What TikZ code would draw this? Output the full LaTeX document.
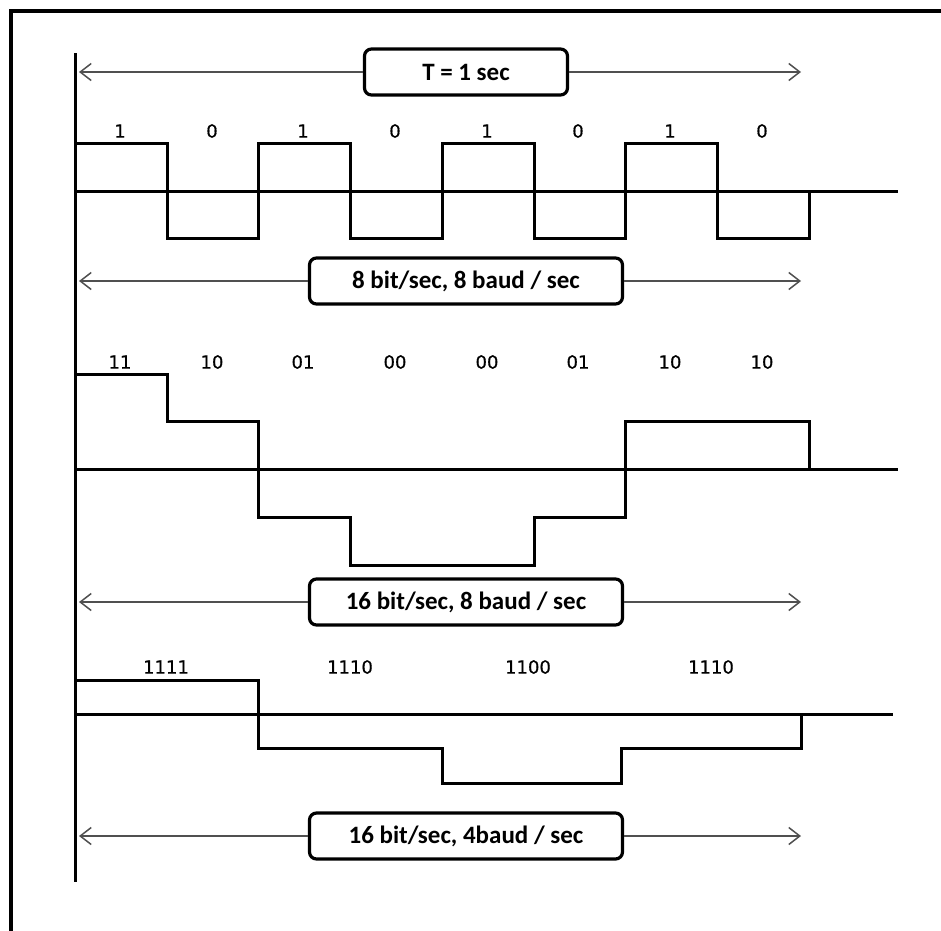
\documentclass[tikz,border=0pt]{standalone}
\usepackage{fontspec}
\setmainfont{Carlito}
\newfontfamily\bitfont[FakeBold=0.6]{DejaVu Sans}
\usetikzlibrary{arrows.meta,positioning}
\definecolor{spangray}{HTML}{505050}

\begin{document}
\begin{tikzpicture}[
    x=1pt, y=-1pt,
    rate/.style={rectangle, rounded corners=7pt, draw=black, line width=3.2pt, fill=white, minimum width=313pt, minimum height=46pt, inner sep=0pt, font=\fontsize{25}{28}\selectfont\bfseries},
    bits/.style={inner sep=0pt, font=\bitfont\fontsize{18}{20}\selectfont},
    span/.style={-{Straight Barb[length=11pt, width=17pt, line width=1.5pt]}, draw=spangray, line width=1.5pt},
    wave/.style={line width=3pt},
    axis/.style={line width=3pt}
]
\useasboundingbox (0,0) rectangle (941,930);

% Frame and time axis
\draw[line width=4.5pt] (11,935) -- (11,11) -- (946,11);
\draw[axis] (75,53) -- (75,882);

% Period
\node[rate, minimum width=203pt] (period) at (466,72) {T = 1 sec};
\coordinate (pl) at (79,72);
\coordinate (pr) at (801,72);
\draw[span] (period.west) -- (pl);
\draw[span] (period.east) -- (pr);

% Two levels
\draw[wave] (75,191) -- (898,191);
\draw[wave] (75,143) -| (167,238) -| (258,143) -| (350,238) -| (442,143) -| (534,238) -| (625,143) -| (717,238) -| (809,191);
\node[bits] (b1) at (120,131) {1};
\node[bits] (b2) at (212,131) {0};
\node[bits] (b3) at (303,131) {1};
\node[bits] (b4) at (395,131) {0};
\node[bits] (b5) at (487,131) {1};
\node[bits] (b6) at (578,131) {0};
\node[bits] (b7) at (670,131) {1};
\node[bits] (b8) at (762,131) {0};

\node[rate] (rate1) at (466,281) {8 bit/sec, 8 baud / sec};
\coordinate (r1l) at (79,281);
\coordinate (r1r) at (801,281);
\draw[span] (rate1.west) -- (r1l);
\draw[span] (rate1.east) -- (r1r);

% Four levels
\draw[wave] (75,469) -- (898,469);
\draw[wave] (75,374) -| (167,421) -| (258,517) -| (350,565) -| (534,517) -| (625,421) -| (809,469);
\node[bits] (d1) at (120,362) {11};
\node[bits] (d2) at (212,362) {10};
\node[bits] (d3) at (303,362) {01};
\node[bits] (d4) at (395,362) {00};
\node[bits] (d5) at (487,362) {00};
\node[bits] (d6) at (578,362) {01};
\node[bits] (d7) at (670,362) {10};
\node[bits] (d8) at (762,362) {10};

\node[rate] (rate2) at (466,602) {16 bit/sec, 8 baud / sec};
\coordinate (r2l) at (79,602);
\coordinate (r2r) at (801,602);
\draw[span] (rate2.west) -- (r2l);
\draw[span] (rate2.east) -- (r2r);

% Sixteen levels
\draw[wave] (75,714) -- (893,714);
\draw[wave] (75,680) -| (258,748) -| (442,783) -| (621,748) -| (801,714);
\node[bits] (q1) at (166,667) {1111};
\node[bits] (q2) at (350,667) {1110};
\node[bits] (q3) at (528,667) {1100};
\node[bits] (q4) at (711,667) {1110};

\node[rate] (rate3) at (466,836) {16 bit/sec, 4baud / sec};
\coordinate (r3l) at (79,836);
\coordinate (r3r) at (801,836);
\draw[span] (rate3.west) -- (r3l);
\draw[span] (rate3.east) -- (r3r);

\end{tikzpicture}
\end{document}
